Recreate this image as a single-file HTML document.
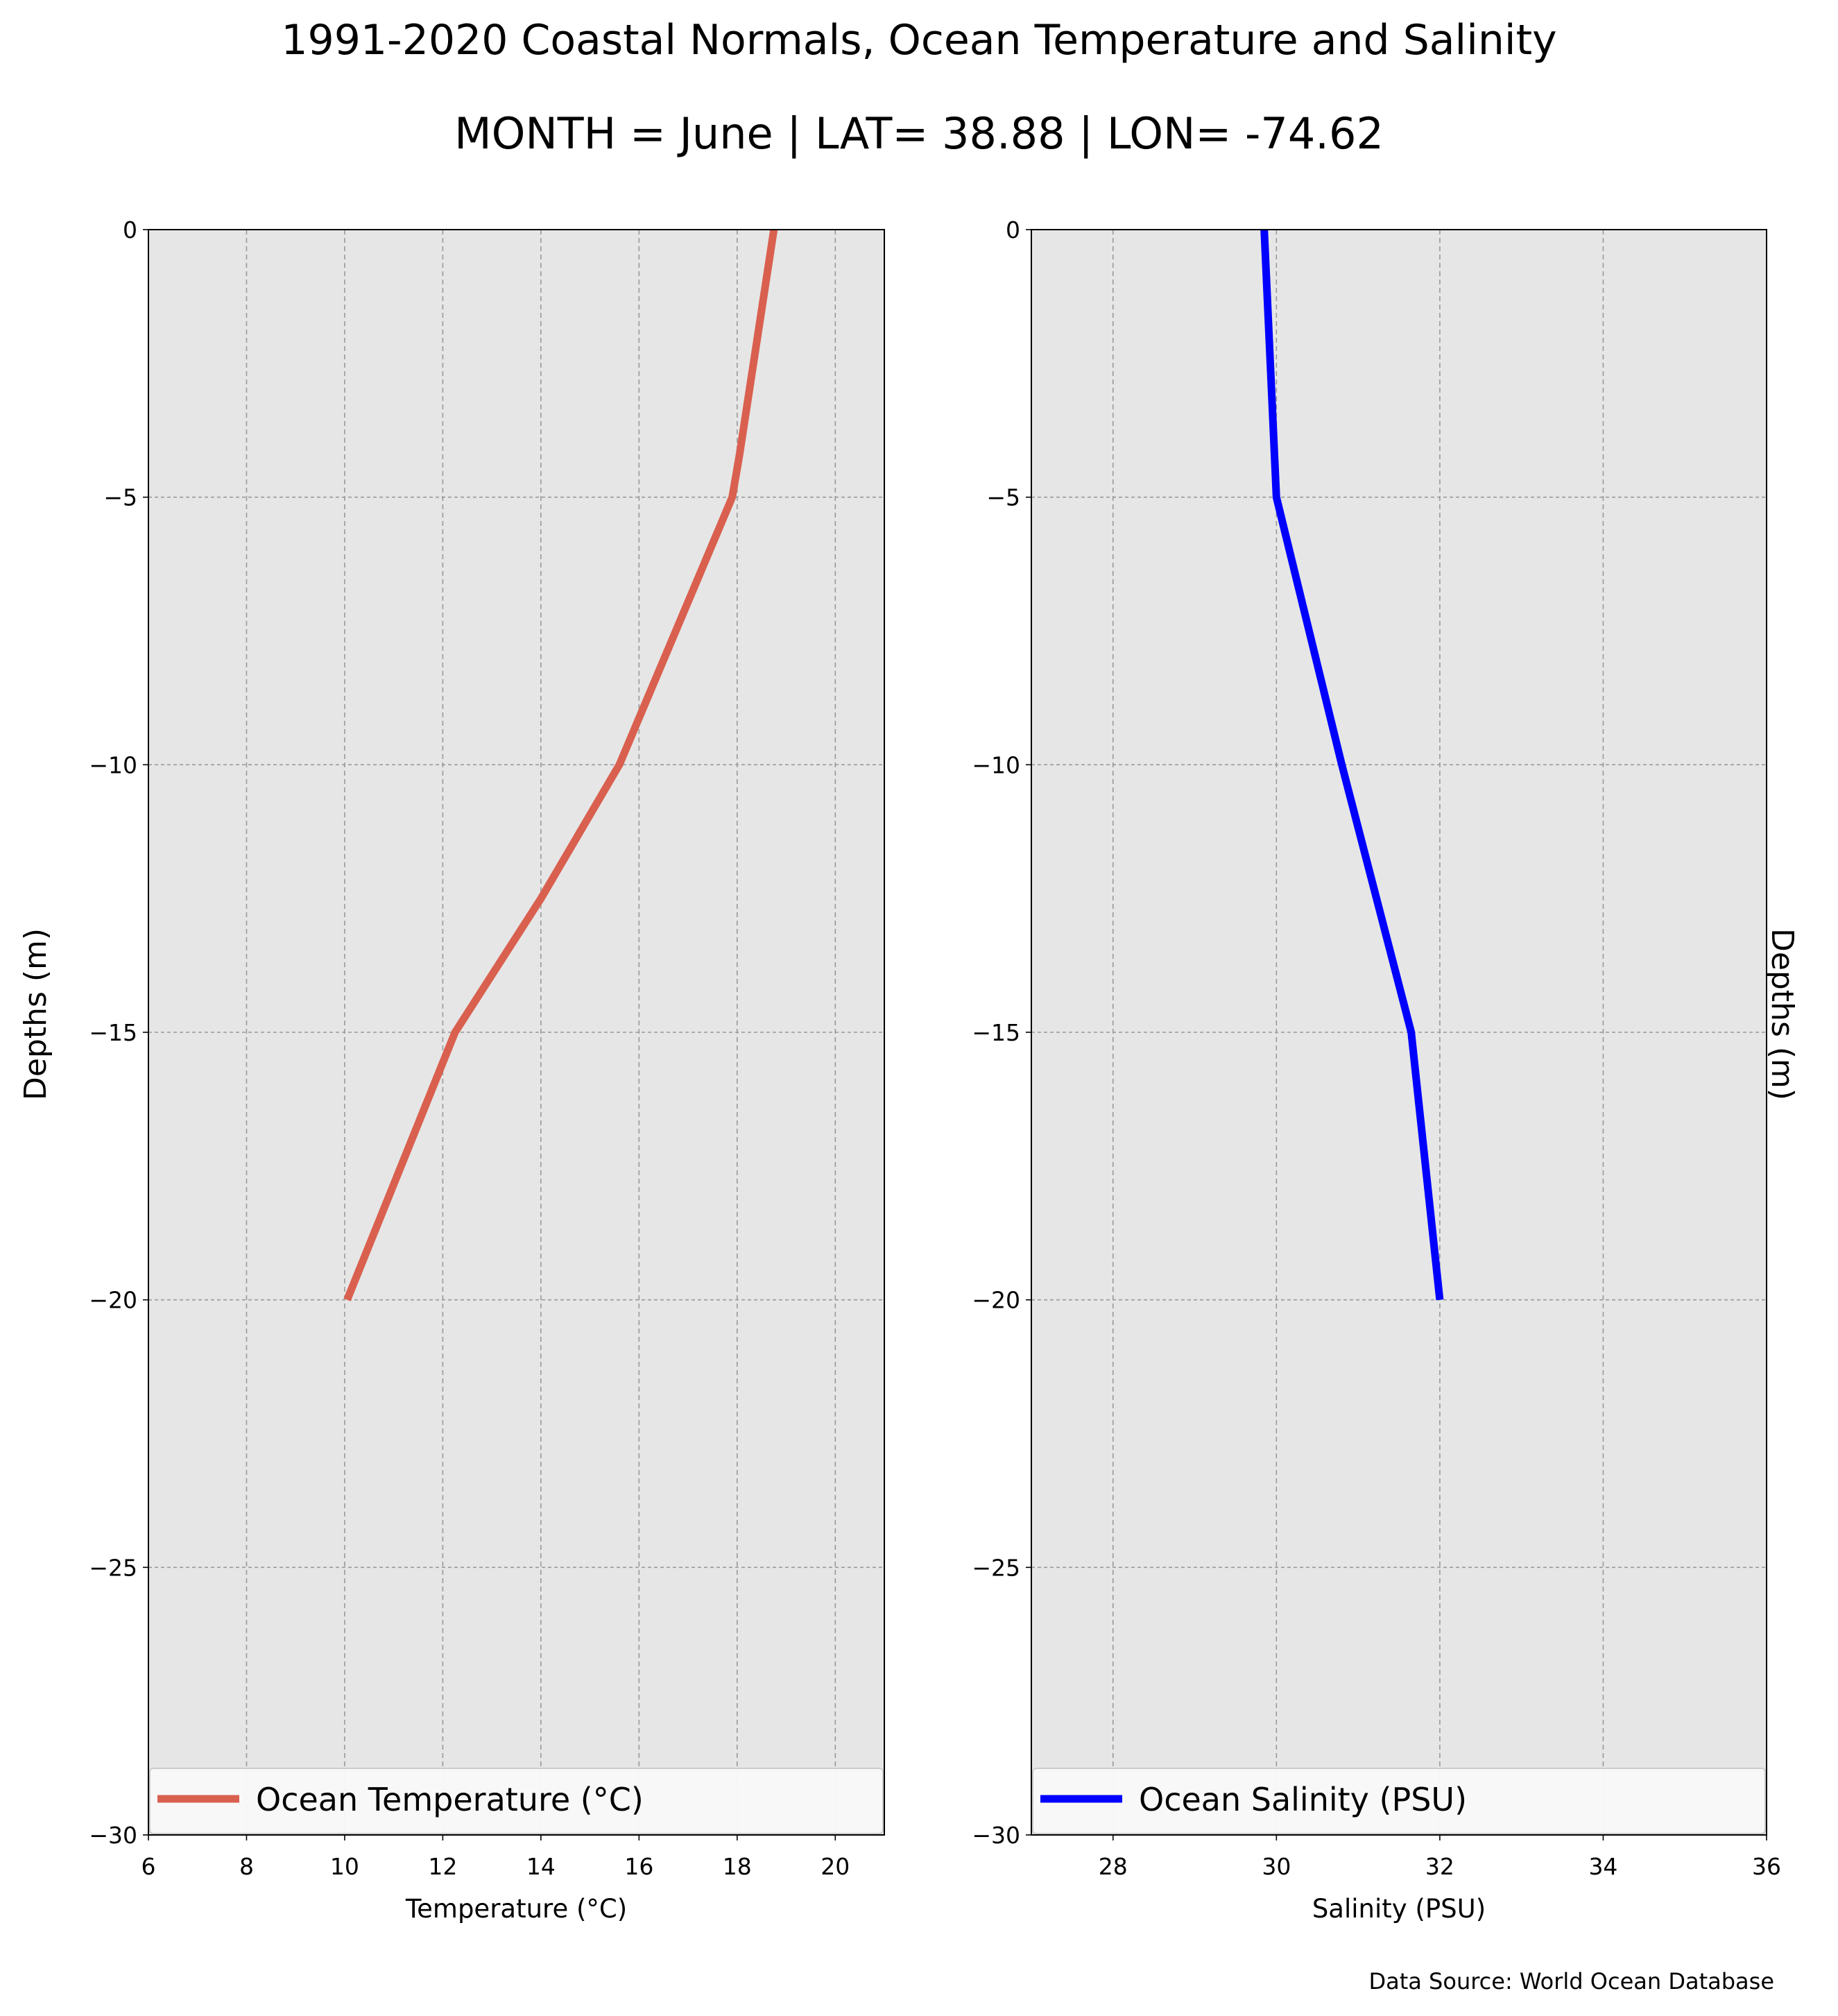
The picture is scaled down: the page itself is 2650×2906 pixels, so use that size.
<!DOCTYPE html>
<html><head><meta charset="utf-8"><style>
body{margin:0;background:#fff;}
svg text{font-family:"DejaVu Sans","Liberation Sans",sans-serif;fill:#000;}
</style></head><body>
<svg id="fig" width="2650" height="2901" viewBox="0 0 2650 2901" xmlns="http://www.w3.org/2000/svg">
<text x="1325" y="78" font-size="60" text-anchor="middle">1991-2020 Coastal Normals, Ocean Temperature and Salinity</text>
<text x="1325" y="214" font-size="62" text-anchor="middle">MONTH = June | LAT= 38.88 | LON= -74.62</text>
<g id="p1"></g>
<g id="p2"></g>
<text x="2558" y="2867" font-size="32" text-anchor="end">Data Source: World Ocean Database</text>
</svg>
<script>
const depths = [0, -4.2, -5, -10, -12.5, -15, -20];
const tempValues = [18.75, 18.05, 17.9, 15.6, 14.0, 12.25, 10.05];
const salDepths = [0, -5, -10, -15, -20];
const salValues = [29.85, 30.0, 30.8, 31.65, 32.0];
const yTicks = [0, -5, -10, -15, -20, -25, -30];
const tempTicks = [6, 8, 10, 12, 14, 16, 18, 20];
const salTicks = [28, 30, 32, 34, 36];

const NS = "http://www.w3.org/2000/svg";
function mk(parent, tag, attrs) {
  const e = document.createElementNS(NS, tag);
  for (const k in attrs) e.setAttribute(k, attrs[k]);
  parent.appendChild(e);
  return e;
}
const yTop = 331, yBot = 2645;
function yS(v) { return yTop + (0 - v) / 30 * (yBot - yTop); }

function panel(g, x0, x1, xmin, xmax, ticks, xs, ys, color, legendText, xlabel, prefix) {
  const xS = v => x0 + (v - xmin) / (xmax - xmin) * (x1 - x0);
  const bg = mk(g, 'rect', {x: x0, y: yTop, width: x1 - x0, height: yBot - yTop, fill: '#e6e6e6'});
  
  
  ticks.forEach(t => {
    const l = mk(g, 'line', {x1: xS(t), x2: xS(t), y1: yTop, y2: yBot, stroke: '#999', 'stroke-width': 1.6, 'stroke-dasharray': '7,5'});
    
    
    const tk = mk(g, 'line', {x1: xS(t), x2: xS(t), y1: yBot, y2: yBot + 8, stroke: '#000', 'stroke-width': 1.6});
    
    
    const tx = mk(g, 'text', {x: xS(t), y: 2702, 'font-size': 33, 'text-anchor': 'middle'});
    tx.textContent = t;
    
    
  });
  yTicks.forEach(t => {
    const l = mk(g, 'line', {x1: x0, x2: x1, y1: yS(t), y2: yS(t), stroke: '#999', 'stroke-width': 1.6, 'stroke-dasharray': '5,4'});
    
    
    const tk = mk(g, 'line', {x1: x0 - 8, x2: x0, y1: yS(t), y2: yS(t), stroke: '#000', 'stroke-width': 1.6});
    
    
    const tx = mk(g, 'text', {x: x0 - 16, y: yS(t) + 12, 'font-size': 33, 'text-anchor': 'end'});
    tx.textContent = t === 0 ? '0' : '\u2212' + Math.abs(t);
    
    
  });
  const pts = xs.map((v, i) => xS(v).toFixed(1) + ',' + yS(ys[i]).toFixed(1)).join(' ');
  const pl = mk(g, 'polyline', {points: pts, fill: 'none', stroke: color, 'stroke-width': 11, 'stroke-linejoin': 'miter'});
  
  
  const fr = mk(g, 'rect', {x: x0, y: yTop, width: x1 - x0, height: yBot - yTop, fill: 'none', stroke: '#000', 'stroke-width': 2});
  
  
  const lg = mk(g, 'g', {});
  
  
  mk(lg, 'rect', {x: x0 + 2, y: 2549, width: x1 - x0 - 4, height: 94, rx: 5, fill: '#f9f9f9', 'fill-opacity': 0.95, stroke: '#ccc', 'stroke-width': 2});
  const sw = mk(lg, 'line', {x1: x0 + 13, x2: x0 + 131, y1: 2593, y2: 2593, stroke: color, 'stroke-width': 11});
  
  
  const lt = mk(lg, 'text', {x: x0 + 155, y: 2610, 'font-size': 46});
  lt.textContent = legendText;
  
  
  const xl = mk(g, 'text', {x: (x0 + x1) / 2, y: 2764, 'font-size': 37, 'text-anchor': 'middle'});
  xl.textContent = xlabel;
  
  
}
const p1 = document.getElementById('p1');
const p2 = document.getElementById('p2');
panel(p1, 214, 1275, 6, 21, tempTicks, tempValues, depths, '#d9604f', 'Ocean Temperature (\u00B0C)', 'Temperature (\u00B0C)', 'temperature');
panel(p2, 1487, 2547, 27, 36, salTicks, salValues, salDepths, '#0000ff', 'Ocean Salinity (PSU)', 'Salinity (PSU)', 'salinity');
const yl = mk(p1, 'text', {x: 0, y: 0, 'font-size': 44, 'text-anchor': 'middle', transform: 'translate(66,1462) rotate(-90)'});
yl.textContent = 'Depths (m)';


const yr = mk(p2, 'text', {x: 0, y: 0, 'font-size': 44, 'text-anchor': 'middle', transform: 'translate(2555,1462) rotate(90)'});
yr.textContent = 'Depths (m)';


</script>
</body></html>
